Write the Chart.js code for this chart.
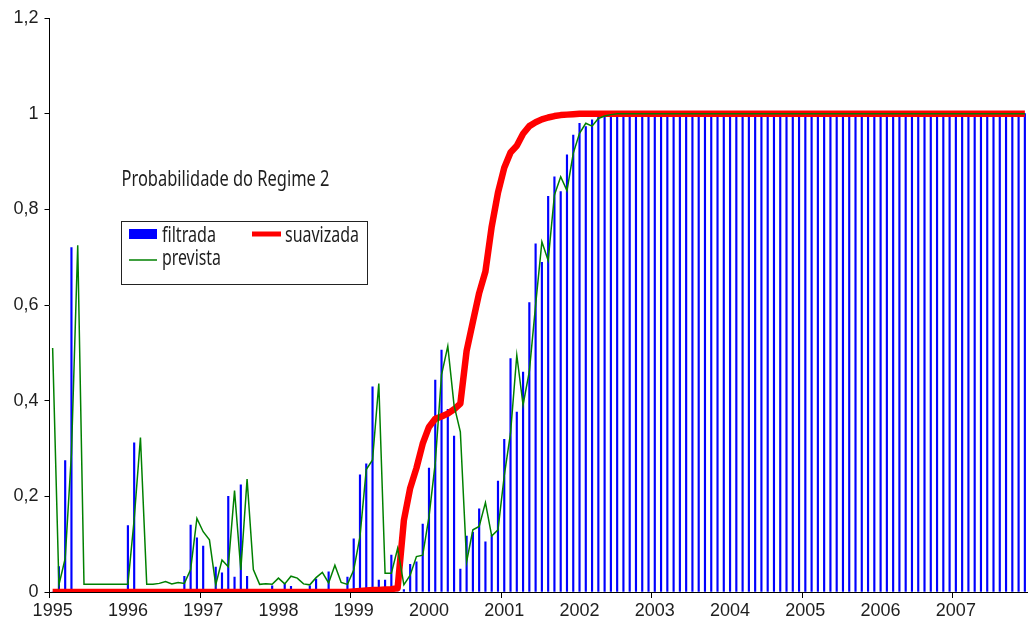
<!DOCTYPE html>
<html>
<head>
<meta charset="utf-8">
<script src="https://cdn.jsdelivr.net/npm/chart.js@4.4.1/dist/chart.umd.min.js"></script>
<style>
  html, body { margin: 0; padding: 0; background: #fff; }
  #wrap { position: relative; width: 1028px; height: 633px; }
</style>
</head>
<body>
<div id="wrap"><canvas id="chart" width="1028" height="633"></canvas></div>
<script>
// years shown on the axis, one category per month
const years = ['1995', '1996', '1997', '1998', '1999', '2000', '2001',
               '2002', '2003', '2004', '2005', '2006', '2007'];
const months = ['01', '02', '03', '04', '05', '06', '07', '08', '09', '10', '11', '12'];

// probabilidade filtrada (barras)
const filtrada = [
  0, 0.053, 0.275, 0.72, 0, 0, 0, 0, 0, 0, 0, 0,
  0.139, 0.312, 0, 0, 0, 0.005, 0, 0, 0, 0.033, 0.14, 0.113,
  0.096, 0, 0.052, 0.04, 0.2, 0.031, 0.224, 0.033, 0, 0, 0, 0.013,
  0, 0.017, 0.012, 0, 0, 0.013, 0.027, 0, 0.042, 0, 0, 0.031,
  0.111, 0.245, 0.268, 0.429, 0.025, 0.025, 0.077, 0, 0.005, 0.058, 0.063, 0.142,
  0.259, 0.443, 0.506, 0.382, 0.326, 0.048, 0.117, 0.125, 0.174, 0.105, 0.119, 0.232,
  0.319, 0.488, 0.376, 0.46, 0.605, 0.728, 0.689, 0.827, 0.868, 0.837, 0.914, 0.955,
  0.98, 0.973, 0.987, 0.993, 0.997, 1, 1, 1, 1, 1, 1, 1,
  1, 1, 1, 1, 1, 1, 1, 1, 1, 1, 1, 1,
  1, 1, 1, 1, 1, 1, 1, 1, 1, 1, 1, 1,
  1, 1, 1, 1, 1, 1, 1, 1, 1, 1, 1, 1,
  1, 1, 1, 1, 1, 1, 1, 1, 1, 1, 1, 1,
  1, 1, 1, 1, 1, 1, 1, 1, 1, 1, 1, 1
];

// probabilidade prevista (linha verde)
const prevista = [
  0.51, 0.015, 0.07, 0.29, 0.725, 0.016, 0.016, 0.016, 0.016, 0.016, 0.016, 0.016,
  0.016, 0.152, 0.323, 0.016, 0.016, 0.018, 0.022, 0.017, 0.02, 0.018, 0.047, 0.154,
  0.126, 0.109, 0.015, 0.067, 0.053, 0.212, 0.046, 0.236, 0.047, 0.016, 0.017, 0.016,
  0.029, 0.017, 0.033, 0.029, 0.017, 0.015, 0.03, 0.041, 0.019, 0.056, 0.02, 0.016,
  0.046, 0.116, 0.256, 0.276, 0.436, 0.039, 0.039, 0.091, 0.015, 0.035, 0.074, 0.077,
  0.157, 0.27, 0.454, 0.514, 0.39, 0.335, 0.063, 0.13, 0.137, 0.187, 0.117, 0.13,
  0.243, 0.332, 0.495, 0.391, 0.461, 0.6, 0.732, 0.693, 0.83, 0.868, 0.839, 0.917,
  0.959, 0.98, 0.974, 0.99, 0.995, 0.998, 1, 1, 1, 1, 1, 1,
  1, 1, 1, 1, 1, 1, 1, 1, 1, 1, 1, 1,
  1, 1, 1, 1, 1, 1, 1, 1, 1, 1, 1, 1,
  1, 1, 1, 1, 1, 1, 1, 1, 1, 1, 1, 1,
  1, 1, 1, 1, 1, 1, 1, 1, 1, 1, 1, 1,
  1, 1, 1, 1, 1, 1, 1, 1, 1, 1, 1, 1
];

// probabilidade suavizada (linha vermelha)
const suavizada = [
  0, 0, 0, 0, 0, 0, 0, 0, 0, 0, 0, 0,
  0, 0, 0, 0, 0, 0, 0, 0, 0, 0, 0, 0,
  0, 0, 0, 0, 0, 0, 0, 0, 0, 0, 0, 0,
  0, 0, 0, 0, 0, 0, 0, 0, 0, 0, 0, 0,
  0.001, 0.002, 0.003, 0.004, 0.004, 0.005, 0.006, 0.008, 0.15, 0.217, 0.259, 0.31,
  0.345, 0.362, 0.367, 0.373, 0.382, 0.394, 0.504, 0.565, 0.625, 0.67, 0.764, 0.835,
  0.887, 0.919, 0.933, 0.958, 0.974, 0.982, 0.988, 0.992, 0.995, 0.997, 0.998, 0.999,
  1, 1, 1, 1, 1, 1, 1, 1, 1, 1, 1, 1,
  1, 1, 1, 1, 1, 1, 1, 1, 1, 1, 1, 1,
  1, 1, 1, 1, 1, 1, 1, 1, 1, 1, 1, 1,
  1, 1, 1, 1, 1, 1, 1, 1, 1, 1, 1, 1,
  1, 1, 1, 1, 1, 1, 1, 1, 1, 1, 1, 1,
  1, 1, 1, 1, 1, 1, 1, 1, 1, 1, 1, 1
];

const labels = [];
years.forEach(y => months.forEach(m => labels.push(y + '-' + m)));

const title = 'Probabilidade do Regime 2';
const textColor = '#1e1e1e';

// draws text squeezed to a measured width (the source uses a condensed face)
function fitText(ctx, text, x, y, width, size) {
  ctx.save();
  ctx.font = size + 'px "Noto Sans"';
  ctx.textBaseline = 'middle';
  ctx.textAlign = 'left';
  ctx.fillStyle = textColor;
  const w = ctx.measureText(text).width;
  ctx.translate(x, y);
  ctx.scale(width / w, 1);
  ctx.fillText(text, 0, 0);
  ctx.restore();
}

const overlay = {
  id: 'overlay',
  afterDraw(chart) {
    const ctx = chart.ctx;
    fitText(ctx, title, 121.5, 180, 208, 21);

    // legend box
    ctx.save();
    ctx.strokeStyle = '#222';
    ctx.lineWidth = 1;
    ctx.strokeRect(121.5, 221.5, 246, 63);
    ctx.fillStyle = '#0000ff';
    ctx.fillRect(129, 229, 28, 10);
    ctx.strokeStyle = '#ff0000';
    ctx.lineWidth = 5;
    ctx.beginPath(); ctx.moveTo(252, 234); ctx.lineTo(281, 234); ctx.stroke();
    ctx.strokeStyle = '#008000';
    ctx.lineWidth = 1.5;
    ctx.beginPath(); ctx.moveTo(129, 260); ctx.lineTo(157, 260); ctx.stroke();
    ctx.restore();
    fitText(ctx, 'filtrada', 162, 236, 54, 21);
    fitText(ctx, 'suavizada', 285, 236, 74, 21);
    fitText(ctx, 'prevista', 162, 259, 59, 21);
  }
};

new Chart(document.getElementById('chart'), {
  type: 'bar',
  data: {
    labels: labels,
    datasets: [
      {
        type: 'bar', label: 'filtrada', data: filtrada,
        backgroundColor: '#0000ff', barThickness: 1.5, order: 3
      },
      {
        type: 'line', label: 'suavizada', data: suavizada,
        borderColor: '#ff0000', borderWidth: 6.5, pointRadius: 0, tension: 0,
        borderJoinStyle: 'round', order: 2
      },
      {
        type: 'line', label: 'prevista', data: prevista,
        borderColor: '#008000', borderWidth: 1.5, pointRadius: 0, tension: 0,
        order: 1
      }
    ]
  },
  options: {
    responsive: false,
    animation: false,
    layout: { padding: { top: 18, right: 0, left: 0, bottom: 0 } },
    plugins: { legend: { display: false }, tooltip: { enabled: false } },
    scales: {
      x: {
        offset: true,
        grid: {
          offset: true, drawOnChartArea: false, tickLength: 6,
          color: c => (c.index % 24 === 0 ? '#000' : 'rgba(0,0,0,0)')
        },
        border: { color: '#000', width: 1 },
        ticks: {
          autoSkip: false, maxRotation: 0, minRotation: 0, padding: 2,
          color: textColor,
          font: { family: '"Liberation Sans", Arial', size: 18 },
          callback: function (v, i) { return i % 12 === 0 ? labels[i].slice(0, 4) : ''; }
        },
        afterFit: s => { s.height = 41; }
      },
      y: {
        min: 0, max: 1.2,
        grid: { drawOnChartArea: false, tickLength: 5, color: '#000' },
        border: { color: '#000', width: 1 },
        ticks: {
          stepSize: 0.2, padding: 6, color: textColor,
          font: { family: '"Liberation Sans", Arial', size: 18 },
          callback: v => String(Math.round(v * 10) / 10).replace('.', ',')
        },
        afterFit: s => { s.width = 49.5; }
      }
    }
  },
  plugins: [overlay]
});
</script>
</body>
</html>
